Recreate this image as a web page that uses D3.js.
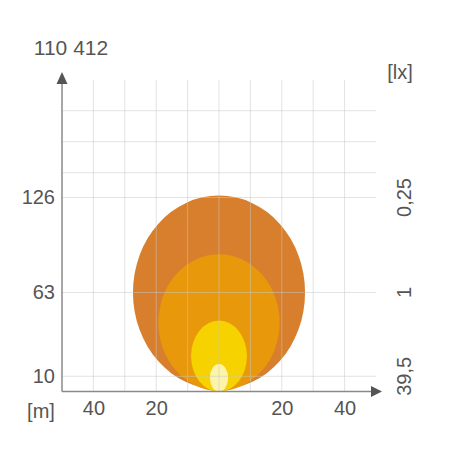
<!DOCTYPE html>
<html>
<head>
<script src="https://d3js.org/d3.v7.min.js"></script>
<style>
  body { margin: 0; background: #fff; }
  text { font-family: "Liberation Sans", Arial, sans-serif; fill: #555; }
</style>
</head>
<body>
<svg width="460" height="459"></svg>
<script>
// distance [m] and lux values
var peakValue = "110 412";
var xTicks = [-40, -20, 20, 40];
var xGrid = [-40, -30, -20, -10, 0, 10, 20, 30, 40];
var yTicks = [10, 63, 126];
var yGrid = [10, 63, 126, 142, 162, 182];
var luxLabels = ["39,5", "1", "0,25"];
// beams: reach (m) and half width (m), largest first
var beamReach = [126, 88, 45.5, 18];
var beamHalfWidth = [27.4, 19.3, 8.9, 2.9];
var beamColors = ["#d77f2c", "#e8980b", "#f6d200", "#fcf4aa"];

var svg = d3.select("svg");

var xs = d3.scaleLinear().domain([-50, 50]).range([62, 376]);
// the drawing is not quite linear in y, so follow the labelled lines
var ys = d3.scaleLinear().domain([0, 10, 63, 126, 182, 202]).range([391.5, 376.3, 292.5, 197.5, 110.7, 80]);

// beams
svg.append("g")
  .selectAll("ellipse")
  .data(beamReach)
  .enter()
  .append("ellipse")
    .attr("cx", xs(0))
    .attr("cy", function(d){ return ys(d / 2); })
    .attr("rx", function(d, i){ return xs(beamHalfWidth[i]) - xs(0); })
    .attr("ry", function(d){ return (ys(0) - ys(d)) / 2; })
    .attr("fill", function(d, i){ return beamColors[i]; });

// grid (drawn over the beams, faint)
var grid = svg.append("g").attr("stroke", "#c8c8c8").attr("stroke-opacity", 0.5).attr("stroke-width", 1);
grid.selectAll(".v")
  .data(xGrid)
  .enter()
  .append("line")
    .attr("x1", function(d){ return xs(d); })
    .attr("x2", function(d){ return xs(d); })
    .attr("y1", ys(202))
    .attr("y2", ys(0));
grid.selectAll(".h")
  .data(yGrid)
  .enter()
  .append("line")
    .attr("x1", xs(-50))
    .attr("x2", xs(50))
    .attr("y1", function(d){ return ys(d); })
    .attr("y2", function(d){ return ys(d); });

// axes lines with arrows
svg.append("line")
  .attr("x1", xs(-50)).attr("x2", xs(-50))
  .attr("y1", ys(0)).attr("y2", 84)
  .attr("stroke", "#8a8a8a").attr("stroke-width", 1.5);
svg.append("path")
  .attr("d", "M" + (xs(-50) - 5.5) + ",84 L" + (xs(-50) + 5.5) + ",84 L" + xs(-50) + ",72 Z")
  .attr("fill", "#555");
svg.append("line")
  .attr("x1", xs(-50)).attr("x2", 371)
  .attr("y1", ys(0)).attr("y2", ys(0))
  .attr("stroke", "#8a8a8a").attr("stroke-width", 1.5);
svg.append("path")
  .attr("d", "M371," + (ys(0) - 5.5) + " L371," + (ys(0) + 5.5) + " L382," + ys(0) + " Z")
  .attr("fill", "#555");

// x labels
var xAxis = svg.append("g")
  .attr("transform", "translate(0,398)")
  .call(d3.axisBottom(xs).tickValues(xTicks).tickSize(0).tickFormat(function(d){ return Math.abs(d); }));
xAxis.select(".domain").remove();
xAxis.selectAll("text").attr("font-size", 20).attr("font-family", null).attr("fill", "#555");

// y labels
var yAxis = svg.append("g")
  .attr("transform", "translate(58,0)")
  .call(d3.axisLeft(ys).tickValues(yTicks).tickSize(0).tickPadding(3));
yAxis.select(".domain").remove();
yAxis.selectAll("text").attr("font-size", 20).attr("font-family", null).attr("fill", "#555");

// lux labels, rotated on the right
svg.append("g")
  .selectAll("text")
  .data(yTicks)
  .enter()
  .append("text")
    .attr("transform", function(d){ return "translate(411," + ys(d) + ") rotate(-90)"; })
    .attr("text-anchor", "middle")
    .attr("font-size", 20)
    .text(function(d, i){ return luxLabels[i]; });

svg.append("text").attr("x", 71).attr("y", 55).attr("text-anchor", "middle").attr("font-size", 21).text(peakValue);
svg.append("text").attr("x", 400).attr("y", 79).attr("text-anchor", "middle").attr("font-size", 20).text("[lx]");
svg.append("text").attr("x", 41).attr("y", 418).attr("text-anchor", "middle").attr("font-size", 20).text("[m]");
</script>
</body>
</html>
